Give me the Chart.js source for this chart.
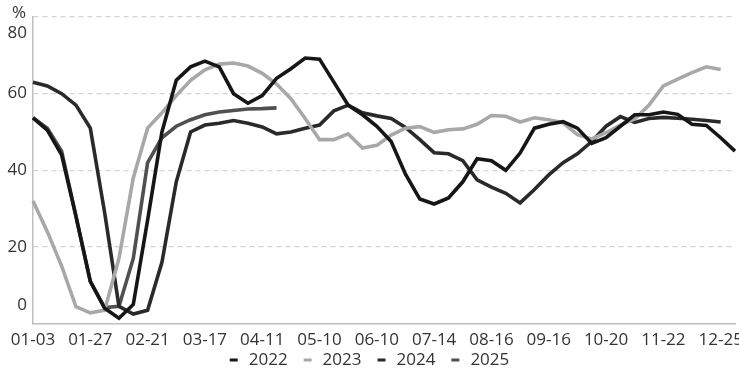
<!DOCTYPE html>
<html>
<head>
<meta charset="utf-8">
<script src="https://cdn.jsdelivr.net/npm/chart.js@4"></script>
<style>
  html, body { margin: 0; padding: 0; background: #fff; overflow: hidden; }
</style>
</head>
<body>
<canvas id="chart" width="739" height="376"></canvas>
<script>
"use strict";

// Tick labels shown on the x axis (one every 4 weeks)
const tickLabels = ["01-03", "01-27", "02-21", "03-17", "04-11", "05-10", "06-10",
  "07-14", "08-16", "09-16", "10-20", "11-22", "12-25"];
const weekCount = 50;
const yTicks = [0, 20, 40, 60, 80];
const years = ["2022", "2023", "2024", "2025"];

// Weekly values (%)
const values2022 = [53.7, 50.5, 44, 28, 11, 4, 1.4, 5, 27, 50,
  63.5, 67, 68.5, 67, 60, 57.5, 59.5, 64, 66.5, 69.3,
  69, 63, 57, 54.5, 51.5, 47.5, 39, 32.5, 31.2, 32.8,
  37, 43, 42.5, 40, 44.5, 51, 52, 52.7, 51, 47,
  48.5, 51.5, 54.5, 54.5, 55.2, 54.6, 52, 51.7, 48.5, 45];
const values2023 = [32, 24, 15, 4.4, 2.8, 3.5, 17, 38, 51, 55,
  59.5, 63.5, 66.2, 67.7, 68, 67.2, 65.3, 62.5, 58.7, 53.5,
  48, 48, 49.5, 45.8, 46.5, 49.2, 51, 51.4, 49.9, 50.6,
  50.8, 52, 54.3, 54.1, 52.6, 53.7, 53.2, 52.4, 49.3, 48.2,
  49.8, 51.8, 53.4, 57, 62, 63.8, 65.5, 67, 66.3, null];
const values2024 = [63, 62, 60, 57, 51, 29, 4.5, 2.5, 3.5, 16,
  37, 50, 51.8, 52.3, 53, 52.3, 51.3, 49.5, 50, 51,
  51.8, 55.5, 57, 55, 54.2, 53.5, 51.2, 48, 44.6, 44.3,
  42.5, 37.5, 35.6, 34, 31.5, 35, 38.8, 42, 44.3, 47.5,
  51.5, 54, 52.5, 53.5, 53.8, 53.6, 53.3, 53, 52.6, null];
const values2025 = [53.7, 51, 45, 28, 11, 4.2, 4.5, 17, 42, 48.5,
  51.5, 53.2, 54.5, 55.2, 55.6, 56, 56.1, 56.3];

const lineColors = ["#161616", "#a8a8a8", "#2a2a2a", "#505050"];
const textColor = "#333333";
const fontFamily = "'Open Sans', 'Noto Sans', sans-serif";

// Categories: one per week, the tick label every 4th week
const categories = [];
for (let i = 0; i < weekCount; i++) {
  categories.push(i % 4 === 0 ? tickLabels[i / 4] : "");
}

const allValues = [values2022, values2023, values2024, values2025];
const datasets = years.map((year, i) => ({
  label: year,
  data: allValues[i],
  borderColor: lineColors[i],
  backgroundColor: lineColors[i],
  borderWidth: 3.6,
  pointRadius: 0,
  tension: 0,
  fill: false,
}));

// Draws the y labels, the "%" unit and the legend
const labelPlugin = {
  id: "labelPlugin",
  afterDraw(chart) {
    const ctx = chart.ctx;
    const yScale = chart.scales.y;
    ctx.save();
    ctx.fillStyle = textColor;
    ctx.font = "17px " + fontFamily;
    ctx.textAlign = "right";
    ctx.textBaseline = "middle";
    yTicks.forEach((v) => {
      let y = yScale.getPixelForValue(v);
      if (v === 80) y += 16;
      if (v === 0) y -= 18;
      ctx.fillText(String(v), 27, y);
    });
    ctx.textAlign = "center";
    ctx.fillText("%", 19, 13);

    // legend
    const dashW = 8, gap = 11, spacing = 16;
    ctx.textAlign = "left";
    const widths = years.map((y) => dashW + gap + ctx.measureText(y).width);
    const total = widths.reduce((a, b) => a + b, 0) + spacing * (years.length - 1);
    let x = (chart.width - total) / 2;
    const ly = 360;
    years.forEach((year, i) => {
      ctx.fillStyle = lineColors[i];
      ctx.fillRect(x, ly - 1.5, dashW, 3);
      ctx.fillStyle = textColor;
      ctx.fillText(year, x + dashW + gap, ly);
      x += widths[i] + spacing;
    });
    ctx.restore();
  },
};

const ctx = document.getElementById("chart").getContext("2d");
const chart = new Chart(ctx, {
  type: "line",
  data: {
    labels: categories,
    datasets: datasets,
  },
  options: {
    responsive: false,
    animation: false,
    layout: {
      autoPadding: false,
      padding: { left: 33, right: 4, top: 17, bottom: 20 },
    },
    scales: {
      x: {
        offset: false,
        grid: { display: false, drawTicks: false },
        border: { display: true, color: "#bfbfbf", width: 1.5 },
        afterFit: (scale) => {
          // let the last label run off the canvas like the original
          scale.paddingLeft = 0;
          scale.paddingRight = 0;
        },
        ticks: {
          autoSkip: false,
          maxRotation: 0,
          padding: 6,
          color: textColor,
          font: { family: fontFamily, size: 17 },
          callback: function (value, index) {
            return index % 4 === 0 ? tickLabels[index / 4] : null;
          },
        },
      },
      y: {
        min: 0,
        max: 80,
        afterBuildTicks: (scale) => {
          scale.ticks = yTicks.map((v) => ({ value: v }));
        },
        grid: {
          drawTicks: false,
          color: (c) => (c.tick && c.tick.value === 0 ? "rgba(0,0,0,0)" : "#d4d4d4"),
          lineWidth: 1.2,
        },
        border: { display: true, color: "#bfbfbf", width: 1.5, dash: [5, 4] },
        ticks: { display: false },
      },
    },
    plugins: {
      legend: { display: false },
      tooltip: { enabled: false },
    },
  },
  plugins: [labelPlugin],
});
</script>
</body>
</html>
